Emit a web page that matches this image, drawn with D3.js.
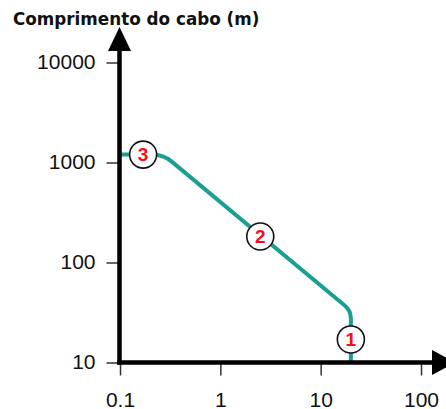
<!DOCTYPE html>
<html>
<head>
<meta charset="utf-8">
<script src="https://cdn.jsdelivr.net/npm/d3@7"></script>
<style>
  html, body { margin: 0; padding: 0; background: #fff; }
  svg { display: block; }
</style>
</head>
<body>
<svg id="chart" width="446" height="409"></svg>
<script>
// Cable length limit curve (log-log)
const xTicks = [0.1, 1, 10, 100];
const yTicks = [10, 100, 1000, 10000];
const xTickLabels = ["0.1", "1", "10", "100"];
const yTickLabels = ["10", "100", "1000", "10000"];

// Breakpoints of the curve
const curveX = [0.1, 0.27, 20, 20];
const curveY = [1200, 1200, 33, 10];

// Numbered markers along the curve
const markerX = [0.17, 2.5, 20];
const markerY = [1200, 182, 17];
const markerLabels = ["3", "2", "1"];

const yTitle = "Comprimento do cabo (m)";

const svg = d3.select("#chart");

const x = d3.scaleLog().domain([0.1, 100]).range([120, 421]);
const y = d3.scaleLog().domain([10, 10000]).range([362.5, 62.5]);

const axisOx = 119.5, axisOy = 362.5;
const labelFont = "'Liberation Sans', Arial, sans-serif";

// Y axis ticks and labels
const gy = svg.append("g")
  .attr("transform", `translate(${axisOx},0)`)
  .call(d3.axisLeft(y).tickValues(yTicks).tickSize(13).tickPadding(11)
    .tickFormat((d, i) => yTickLabels[i]));
gy.select(".domain").remove();
gy.selectAll(".tick line").attr("stroke", "#333").attr("stroke-width", 1.5);
gy.selectAll(".tick text")
  .attr("font-family", labelFont).attr("font-size", 21)
  .attr("fill", "#111").attr("dy", "0.28em");

// X axis ticks and labels
const gx = svg.append("g")
  .attr("transform", `translate(0,${axisOy})`)
  .call(d3.axisBottom(x).tickValues(xTicks).tickSize(13).tickPadding(0)
    .tickFormat((d, i) => xTickLabels[i]));
gx.select(".domain").remove();
gx.selectAll(".tick line").attr("stroke", "#333").attr("stroke-width", 1.5);
gx.selectAll(".tick text")
  .attr("font-family", labelFont).attr("font-size", 21)
  .attr("fill", "#111").attr("y", 44).attr("dy", 0);

// Curve with rounded corners at each breakpoint
const pts = curveX.map((d, i) => [x(d), y(curveY[i])]);
const radii = [0, 11, 8, 0];
const p = d3.path();
p.moveTo(pts[0][0], pts[0][1]);
for (let i = 1; i < pts.length - 1; i++) {
  const [px, py] = pts[i];
  const [ax, ay] = pts[i - 1];
  const [bx, by] = pts[i + 1];
  const la = Math.hypot(ax - px, ay - py), lb = Math.hypot(bx - px, by - py);
  const r = Math.min(radii[i], la / 2, lb / 2);
  p.lineTo(px + (ax - px) / la * r, py + (ay - py) / la * r);
  p.quadraticCurveTo(px, py, px + (bx - px) / lb * r, py + (by - py) / lb * r);
}
p.lineTo(pts[pts.length - 1][0], pts[pts.length - 1][1]);
svg.append("path")
  .attr("d", p.toString())
  .attr("fill", "none")
  .attr("stroke", "#1b9e94")
  .attr("stroke-width", 4)
  .attr("stroke-linejoin", "round");

// Axis lines with arrowheads
svg.append("line")
  .attr("x1", axisOx).attr("y1", axisOy + 2.2)
  .attr("x2", axisOx).attr("y2", 48)
  .attr("stroke", "#000").attr("stroke-width", 4.5);
svg.append("path")
  .attr("d", d3.line()([[axisOx, 27], [axisOx - 11.5, 51], [axisOx + 11.5, 51]]) + "Z")
  .attr("fill", "#000");
svg.append("line")
  .attr("x1", axisOx - 2.2).attr("y1", axisOy)
  .attr("x2", 435).attr("y2", axisOy)
  .attr("stroke", "#000").attr("stroke-width", 4.5);
svg.append("path")
  .attr("d", d3.line()([[455, axisOy], [432, axisOy - 12.5], [432, axisOy + 12.5]]) + "Z")
  .attr("fill", "#000");

// Markers
const m = svg.append("g").selectAll("g")
  .data(markerLabels)
  .join("g")
  .attr("transform", (d, i) => `translate(${x(markerX[i])},${y(markerY[i])})`);
m.append("circle")
  .attr("r", 13.5)
  .attr("fill", "#fff")
  .attr("stroke", "#111")
  .attr("stroke-width", 1.6);
m.append("text")
  .text(d => d)
  .attr("text-anchor", "middle")
  .attr("dy", "0.36em")
  .attr("font-family", labelFont)
  .attr("font-weight", "bold")
  .attr("font-size", 19)
  .attr("fill", "#ff0a14");

// Axis title
svg.append("text")
  .attr("x", 13).attr("y", 24.5)
  .attr("font-family", "'DejaVu Sans', Verdana, sans-serif")
  .attr("font-weight", "bold")
  .attr("font-size", 16.8)
  .attr("fill", "#111")
  .text(yTitle);
</script>
</body>
</html>
